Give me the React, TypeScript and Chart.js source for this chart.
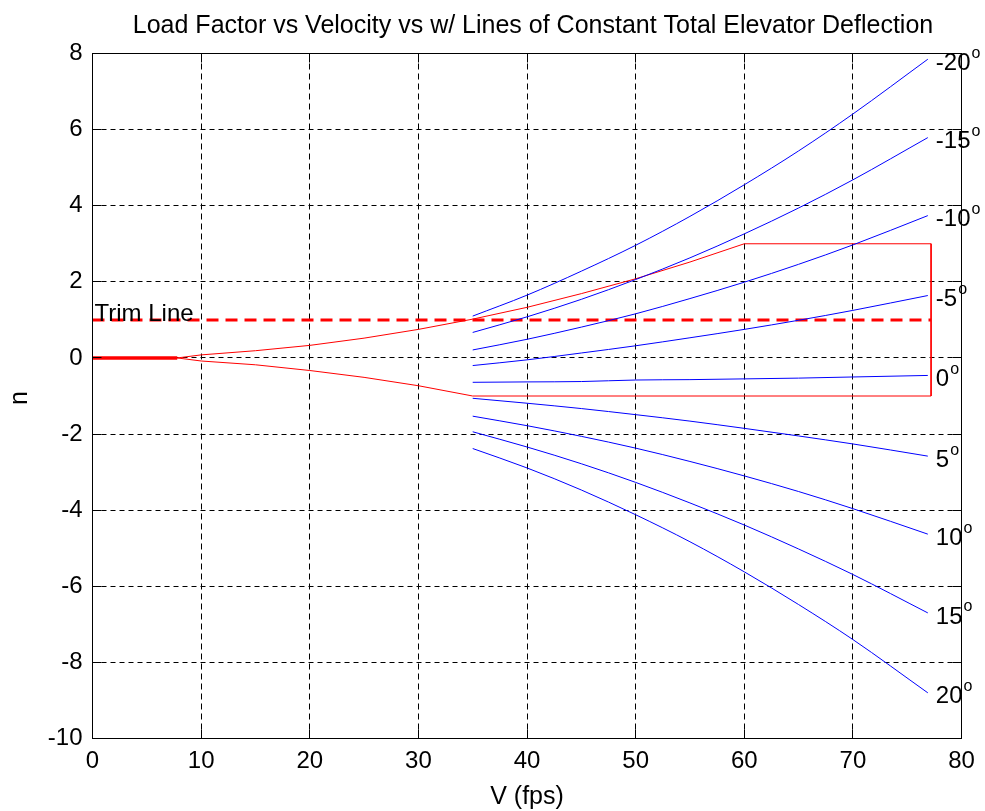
import React, { useEffect, useRef } from "react";
import { Chart, registerables } from "chart.js";

Chart.register(...registerables);

// Velocity samples (fps) for the constant-deflection lines
const deflV = [35, 40, 45, 50, 55, 60, 65, 70, 76.9];

// Total elevator deflection (deg) and the load factor n along each line
const deflAngles = [-20, -15, -10, -5, 0, 5, 10, 15, 20];
const nDefM20 = [1.1, 1.65, 2.28, 2.96, 3.72, 4.55, 5.44, 6.41, 7.85];
const nDefM15 = [0.67, 1.08, 1.54, 2.06, 2.63, 3.26, 3.94, 4.68, 5.79];
const nDefM10 = [0.21, 0.49, 0.81, 1.16, 1.56, 1.99, 2.46, 2.97, 3.74];
const nDefM5 = [-0.2, -0.05, 0.13, 0.32, 0.53, 0.75, 0.99, 1.25, 1.64];
const nDef0 = [-0.64, -0.63, -0.62, -0.58, -0.57, -0.55, -0.53, -0.5, -0.46];
const nDefP5 = [-1.06, -1.19, -1.33, -1.49, -1.66, -1.85, -2.05, -2.26, -2.58];
const nDefP10 = [-1.53, -1.78, -2.06, -2.37, -2.72, -3.1, -3.51, -3.96, -4.63];
const nDefP15 = [-1.94, -2.34, -2.78, -3.27, -3.81, -4.39, -5.02, -5.69, -6.7];
const nDefP20 = [-2.38, -2.89, -3.47, -4.12, -4.83, -5.62, -6.48, -7.4, -8.8];
const deflSeries = [nDefM20, nDefM15, nDefM10, nDefM5, nDef0, nDefP5, nDefP10, nDefP15, nDefP20];

// Flight envelope (closed path): stall curve up, limit load, max speed, negative limit, stall curve back
const envV = [0, 7.8, 10, 15, 20, 25, 30, 35, 40, 45, 50, 55, 60, 77.2, 77.2, 35, 30, 25, 20, 15, 10, 7.8, 0];
const envN = [0, 0, 0.08, 0.19, 0.33, 0.52, 0.75, 1.02, 1.33, 1.69, 2.08, 2.52, 3.0, 3.0, -1.0, -1.0, -0.73, -0.51, -0.33, -0.18, -0.08, 0, 0];

// Low-speed segment along n = 0
const stallV = [0, 7.8];
const stallN = [0, 0];

// Trim line n = 1
const trimV = [0, 77.2];
const trimN = [1, 1];

// Axis ticks
const xTicks = [0, 10, 20, 30, 40, 50, 60, 70, 80];
const yTicks = [-10, -8, -6, -4, -2, 0, 2, 4, 6, 8];

const FONT = '"Liberation Sans", Arial, Helvetica, sans-serif';

const toPoints = (xs: number[], ys: number[]) => xs.map((x, i) => ({ x, y: ys[i] }));

const crisp = (v: number) => Math.round(v - 0.5) + 0.5;

const figurePlugin = {
  id: "figureDecor",
  beforeDatasetsDraw(chart: any) {
    const { ctx, chartArea: a, scales } = chart;
    const xs = scales.x;
    const ys = scales.y;
    ctx.save();
    ctx.strokeStyle = "#000";
    ctx.lineWidth = 1;
    // dashed grid
    ctx.setLineDash([6, 4]);
    xTicks.slice(1, -1).forEach((v) => {
      const px = crisp(xs.getPixelForValue(v));
      ctx.beginPath();
      ctx.moveTo(px, a.top);
      ctx.lineTo(px, a.bottom);
      ctx.stroke();
    });
    ctx.setLineDash([5, 4]);
    yTicks.slice(1, -1).forEach((v) => {
      const py = crisp(ys.getPixelForValue(v));
      ctx.beginPath();
      ctx.moveTo(a.left, py);
      ctx.lineTo(a.right, py);
      ctx.stroke();
    });
    ctx.restore();
  },
  afterDatasetsDraw(chart: any) {
    const { ctx, chartArea: a, scales } = chart;
    const xs = scales.x;
    const ys = scales.y;
    ctx.save();
    ctx.strokeStyle = "#000";
    ctx.lineWidth = 1;
    ctx.setLineDash([]);
    // box
    const L = crisp(a.left), R = crisp(a.right), T = crisp(a.top), B = crisp(a.bottom);
    ctx.strokeRect(L, T, R - L, B - T);
    // inward ticks on all four sides
    const tl = 9;
    ctx.beginPath();
    xTicks.forEach((v) => {
      const px = crisp(xs.getPixelForValue(v));
      ctx.moveTo(px, B);
      ctx.lineTo(px, B - tl);
      ctx.moveTo(px, T);
      ctx.lineTo(px, T + tl);
    });
    yTicks.forEach((v) => {
      const py = crisp(ys.getPixelForValue(v));
      ctx.moveTo(L, py);
      ctx.lineTo(L + tl, py);
      ctx.moveTo(R, py);
      ctx.lineTo(R - tl, py);
    });
    ctx.stroke();

    ctx.fillStyle = "#000";
    // title
    ctx.font = `25px ${FONT}`;
    ctx.textAlign = "center";
    ctx.textBaseline = "alphabetic";
    ctx.fillText("Load Factor vs Velocity vs w/ Lines of Constant Total Elevator Deflection", (a.left + a.right) / 2 + 6, 33);
    // x axis title
    ctx.fillText("V (fps)", (a.left + a.right) / 2, 804);
    // y axis title
    ctx.save();
    ctx.translate(27, (a.top + a.bottom) / 2 + 2);
    ctx.rotate(-Math.PI / 2);
    ctx.textBaseline = "alphabetic";
    ctx.fillText("n", 0, 0);
    ctx.restore();

    // trim line label
    ctx.textAlign = "left";
    ctx.textBaseline = "alphabetic";
    ctx.font = `24px ${FONT}`;
    ctx.fillText("Trim Line", xs.getPixelForValue(0) + 2, ys.getPixelForValue(trimN[0]) + 1);

    // deflection labels at the end of each line
    deflSeries.forEach((ns, i) => {
      const lastV = deflV[deflV.length - 1];
      const lastN = ns[ns.length - 1];
      const px = xs.getPixelForValue(lastV) + 8;
      const py = ys.getPixelForValue(lastN) + 4;
      const txt = String(deflAngles[i]);
      ctx.font = `24px ${FONT}`;
      ctx.textBaseline = "middle";
      ctx.fillText(txt, px, py);
      const w = ctx.measureText(txt).width;
      ctx.font = `16px ${FONT}`;
      ctx.fillText("o", px + w + 1, py - 10);
    });
    ctx.restore();
  },
};

export default function App() {
  const canvasRef = useRef<HTMLCanvasElement | null>(null);

  useEffect(() => {
    if (!canvasRef.current) return;
    const blueSets = deflSeries.map((ns, i) => ({
      label: `${deflAngles[i]} deg`,
      data: toPoints(deflV, ns),
      borderColor: "#0000ff",
      borderWidth: 1,
      pointRadius: 0,
      fill: false,
      cubicInterpolationMode: "monotone" as const,
    }));
    const chart = new Chart(canvasRef.current, {
      type: "line",
      data: {
        datasets: [
          ...blueSets,
          {
            label: "Envelope",
            data: toPoints(envV, envN),
            borderColor: "#ff0000",
            borderWidth: 1,
            pointRadius: 0,
            fill: false,
          },
          {
            label: "Low speed",
            data: toPoints(stallV, stallN),
            borderColor: "#ff0000",
            borderWidth: 3.5,
            pointRadius: 0,
            fill: false,
          },
          {
            label: "Trim Line",
            data: toPoints(trimV, trimN),
            borderColor: "#ff0000",
            borderWidth: 3,
            borderDash: [12, 7],
            pointRadius: 0,
            fill: false,
          },
        ],
      },
      options: {
        animation: false,
        responsive: false,
        devicePixelRatio: 1,
        layout: { padding: { top: 53.5, right: 23.5, bottom: 0, left: 0 } },
        plugins: {
          legend: { display: false },
          tooltip: { enabled: false },
          title: { display: false },
        },
        elements: { line: { tension: 0 }, point: { radius: 0 } },
        scales: {
          x: {
            type: "linear",
            min: 0,
            max: 80,
            ticks: {
              stepSize: 10,
              color: "#000",
              font: { family: FONT, size: 24 },
              padding: 8,
              maxRotation: 0,
              autoSkip: false,
            },
            grid: { display: false, drawTicks: false },
            border: { display: false },
            afterFit: (s: any) => {
              s.height = 72.5;
            },
          },
          y: {
            type: "linear",
            min: -10,
            max: 8,
            ticks: {
              stepSize: 2,
              color: "#000",
              font: { family: FONT, size: 24 },
              padding: 10,
              autoSkip: false,
            },
            grid: { display: false, drawTicks: false },
            border: { display: false },
            afterFit: (s: any) => {
              s.width = 92.5;
            },
          },
        },
      },
      plugins: [figurePlugin],
    });
    return () => chart.destroy();
  }, []);

  return (
    <div style={{ position: "fixed", left: 0, top: 0, width: 985, height: 811, background: "#fff" }}>
      <canvas ref={canvasRef} width={985} height={811} />
    </div>
  );
}
